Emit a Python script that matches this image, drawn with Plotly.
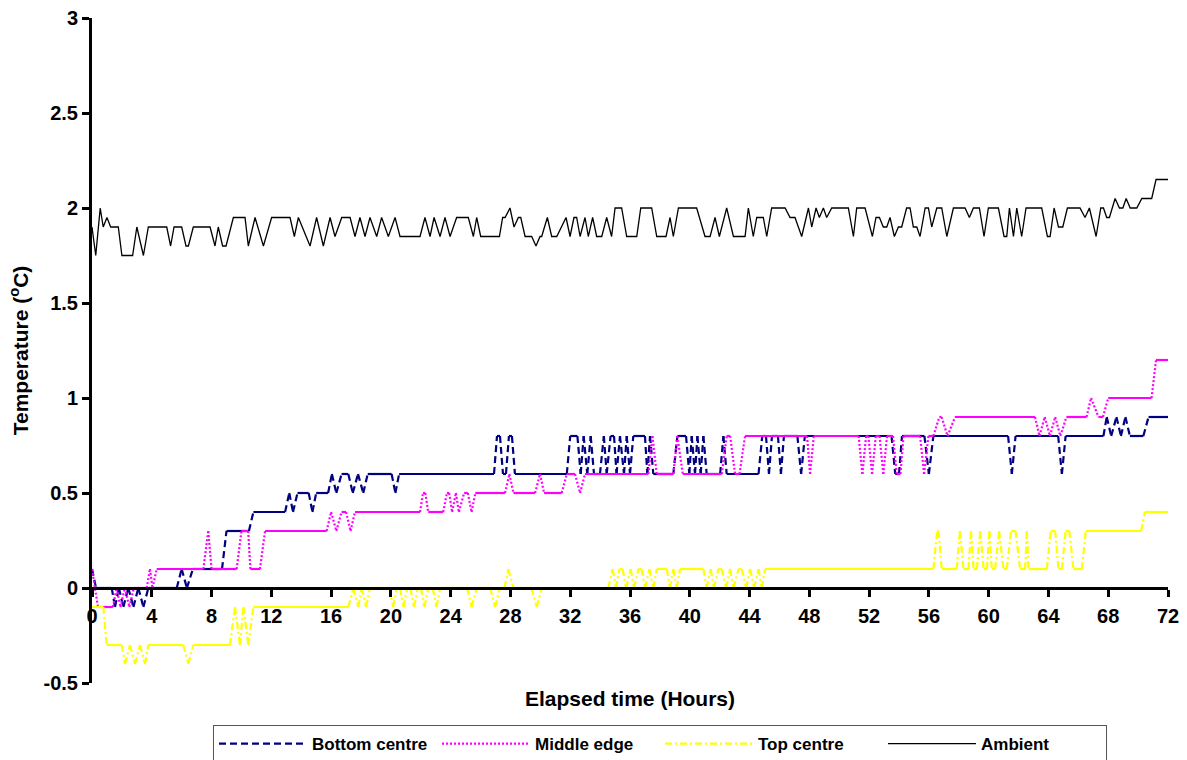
import plotly.graph_objects as go

# ---------------- data (hours, °C) ----------------
bottom_t = [0, 0.27, 1.32, 1.54, 1.8, 2.1, 2.43, 2.77, 3.1, 3.44, 3.77, 5.67, 6.0, 6.35, 6.75,
            8.7, 9.0, 10.5, 10.8, 12.92, 13.2, 13.45, 13.75, 14.5, 14.75, 15.0, 15.8, 16.05,
            16.35, 16.7, 17.15, 17.45, 17.8, 18.15, 18.45, 20.05, 20.3, 20.55, 26.9, 27.1, 27.3,
            27.5, 27.7, 27.9, 28.1, 28.3, 31.77, 32.0, 32.48, 32.7, 32.9, 33.14, 33.37, 33.59,
            33.99, 34.25, 34.44, 34.7, 34.93, 35.1, 35.33, 35.6, 35.78, 36.0, 36.22, 37.0, 37.16,
            37.34, 37.56, 38.9, 39.17, 39.75, 39.97, 40.13, 40.35, 40.51, 40.73, 40.91, 41.13,
            42.03, 42.25, 42.47, 44.6, 44.85, 45.1, 45.3, 45.5, 45.9, 46.1, 46.3, 47.2, 47.45,
            47.7, 53.5, 53.75, 54.0, 54.2, 55.7, 56.0, 56.3, 61.3, 61.55, 61.8, 64.65, 64.9,
            65.15, 67.68, 67.9, 68.2, 68.55, 68.85, 69.15, 69.45, 70.35, 70.7, 72]
bottom_v = [0.1, 0.0, 0.0, -0.1, 0.0, -0.1, 0.0, -0.1, 0.0, -0.1, 0.0, 0.0, 0.1, 0.0, 0.1,
            0.1, 0.3, 0.3, 0.4, 0.4, 0.5, 0.4, 0.5, 0.5, 0.4, 0.5, 0.5, 0.6,
            0.5, 0.6, 0.6, 0.5, 0.6, 0.5, 0.6, 0.6, 0.5, 0.6, 0.6, 0.8, 0.8,
            0.6, 0.6, 0.8, 0.8, 0.6, 0.6, 0.8, 0.8, 0.6, 0.8, 0.6, 0.8, 0.6,
            0.6, 0.8, 0.6, 0.8, 0.8, 0.6, 0.8, 0.6, 0.8, 0.6, 0.8, 0.8, 0.6,
            0.8, 0.6, 0.6, 0.8, 0.8, 0.6, 0.8, 0.6, 0.8, 0.6, 0.8, 0.6,
            0.6, 0.8, 0.6, 0.6, 0.8, 0.8, 0.6, 0.8, 0.8, 0.6, 0.8, 0.8, 0.6,
            0.8, 0.8, 0.6, 0.6, 0.8, 0.8, 0.6, 0.8, 0.8, 0.6, 0.8, 0.8, 0.6,
            0.8, 0.8, 0.9, 0.8, 0.9, 0.8, 0.9, 0.8, 0.8, 0.9, 0.9]

middle_t = [0, 0.4, 1.4, 1.65, 1.9, 2.2, 2.5, 2.8, 3.66, 3.88, 4.05, 4.33, 7.45, 7.78, 8.0,
            9.68, 10.0, 10.45, 10.6, 11.24, 11.58, 15.7, 16.0, 16.35, 16.7, 17.0, 17.3, 17.6,
            21.95, 22.15, 22.3, 22.5, 23.5, 23.75, 23.9, 24.1, 24.35, 24.55, 24.9, 25.15, 25.4,
            25.65, 27.64, 27.93, 28.2, 29.65, 29.98, 30.25, 31.43, 31.77, 32.32, 32.66, 32.99,
            37.23, 37.5, 37.79, 38.9, 39.17, 39.53, 42.14, 42.47, 42.7, 43.03, 43.33, 43.7,
            47.85, 48.05, 48.3, 51.3, 51.55, 51.8, 51.95, 52.2, 52.45, 52.7, 52.95, 53.2, 53.6,
            53.85, 54.1, 54.3, 55.41, 55.68, 55.97, 56.3, 56.7, 56.85, 57.25, 57.75, 63.1, 63.4,
            63.75, 64.1, 64.45, 64.8, 65.2, 66.55, 66.85, 67.35, 67.65, 68.0, 70.9, 71.2, 72]
middle_v = [0.1, -0.1, -0.1, 0.0, -0.1, 0.0, -0.1, 0.0, 0.0, 0.1, 0.0, 0.1, 0.1, 0.3, 0.1,
            0.1, 0.3, 0.3, 0.1, 0.1, 0.3, 0.3, 0.4, 0.3, 0.4, 0.4, 0.3, 0.4,
            0.4, 0.5, 0.5, 0.4, 0.4, 0.5, 0.5, 0.4, 0.5, 0.4, 0.5, 0.5, 0.4,
            0.5, 0.5, 0.6, 0.5, 0.5, 0.6, 0.5, 0.5, 0.6, 0.6, 0.5, 0.6,
            0.6, 0.8, 0.6, 0.6, 0.8, 0.6, 0.6, 0.8, 0.8, 0.6, 0.6, 0.8,
            0.8, 0.6, 0.8, 0.8, 0.6, 0.8, 0.8, 0.6, 0.8, 0.8, 0.6, 0.8, 0.8,
            0.6, 0.6, 0.8, 0.8, 0.6, 0.8, 0.8, 0.9, 0.9, 0.8, 0.9, 0.9, 0.8,
            0.9, 0.8, 0.9, 0.8, 0.9, 0.9, 1.0, 0.9, 0.9, 1.0, 1.0, 1.2, 1.2]

top_t = [0, 0.76, 0.98, 1.99, 2.21, 2.54, 2.88, 3.21, 3.55, 3.77, 6.11, 6.45, 6.78, 9.23, 9.57,
         9.9, 10.13, 10.46, 10.8, 17.15, 17.49, 17.82, 18.05, 18.34, 18.6, 19.9, 20.15, 20.4,
         20.6, 20.85, 21.1, 21.3, 21.55, 21.8, 22.0, 22.25, 22.5, 22.8, 23.05, 23.3, 25.1, 25.4,
         25.75, 26.65, 26.97, 27.3, 27.6, 27.86, 28.2, 29.4, 29.76, 30.1, 34.55, 34.84, 35.07,
         35.29, 35.51, 35.74, 36.05, 36.27, 36.56, 36.78, 37.01, 37.3, 37.56, 37.79, 38.46,
         38.68, 38.9, 39.13, 39.35, 40.91, 41.13, 41.4, 41.62, 41.91, 42.14, 42.43, 42.7, 42.92,
         43.26, 43.48, 43.77, 44.04, 44.31, 44.6, 44.82, 45.04, 56.3, 56.55, 56.65, 56.86,
         57.86, 58.08, 58.31, 58.65, 58.82, 58.99, 59.21, 59.44, 59.66, 59.88, 60.05, 60.21,
         60.43, 60.7, 60.99, 61.21, 61.5, 61.8, 62.1, 62.44, 62.55, 62.67, 63.89, 64.15, 64.45,
         64.67, 64.9, 65.15, 65.4, 65.67, 66.23, 66.5, 70.2, 70.45, 72]
top_v = [-0.1, -0.1, -0.3, -0.3, -0.4, -0.3, -0.4, -0.3, -0.4, -0.3, -0.3, -0.4, -0.3, -0.3, -0.1,
         -0.3, -0.1, -0.3, -0.1, -0.1, 0.0, -0.1, 0.0, -0.1, 0.0, 0.0, -0.1, 0.0,
         0.0, -0.1, 0.0, 0.0, -0.1, 0.0, 0.0, -0.1, 0.0, 0.0, -0.1, 0.0, 0.0, -0.1,
         0.0, 0.0, -0.1, 0.0, 0.0, 0.1, 0.0, 0.0, -0.1, 0.0, 0.0, 0.1, 0.0,
         0.1, 0.1, 0.0, 0.1, 0.0, 0.1, 0.1, 0.0, 0.1, 0.0, 0.1, 0.1,
         0.0, 0.1, 0.0, 0.1, 0.1, 0.0, 0.1, 0.0, 0.1, 0.1, 0.0, 0.1, 0.0,
         0.1, 0.1, 0.0, 0.1, 0.0, 0.1, 0.0, 0.1, 0.1, 0.3, 0.3, 0.1,
         0.1, 0.3, 0.1, 0.1, 0.3, 0.1, 0.1, 0.3, 0.1, 0.1, 0.3, 0.1,
         0.1, 0.3, 0.1, 0.1, 0.3, 0.3, 0.1, 0.1, 0.3, 0.1, 0.1, 0.3, 0.3,
         0.1, 0.1, 0.3, 0.3, 0.1, 0.1, 0.3, 0.3, 0.4, 0.4]

ambient_t = [0, 0.25, 0.55, 0.75, 1.0, 1.25, 1.76, 2.0, 2.72, 3.0, 3.44, 3.77, 5.0, 5.26, 5.49,
             6.0, 6.29, 6.45, 6.78, 7.9, 8.23, 8.45, 8.74, 8.97, 9.46, 10.24, 10.46, 10.91, 11.47,
             12.02, 13.25, 13.54, 13.81, 14.59, 15.03, 15.48, 15.93, 16.26, 16.71, 17.27, 17.6,
             17.93, 18.27, 18.6, 19.05, 19.38, 19.83, 20.28, 20.61, 21.95, 22.28, 22.62, 22.89,
             23.29, 23.62, 23.96, 24.4, 25.18, 25.52, 25.74, 26.01, 27.26, 27.48, 27.64, 27.97,
             28.24, 28.53, 28.69, 28.98, 29.42, 29.71, 29.98, 30.09, 30.47, 30.76, 31.1, 31.72,
             31.99, 32.25, 32.43, 32.66, 32.99, 33.21, 33.5, 33.77, 34.11, 34.44, 34.77, 35.0,
             35.44, 35.78, 36.45, 36.72, 37.45, 37.79, 38.41, 38.68, 38.9, 39.24, 40.46, 41.02,
             41.36, 41.69, 41.98, 42.47, 42.92, 43.7, 43.92, 44.25, 44.48, 44.92, 45.15, 45.48,
             46.38, 46.71, 47.04, 47.49, 47.94, 48.16, 48.45, 48.67, 48.94, 49.16, 49.5, 50.61,
             50.95, 51.17, 51.73, 52.22, 52.46, 52.69, 52.95, 53.18, 53.4, 53.69, 53.96, 54.18,
             54.51, 54.74, 54.96, 55.19, 55.41, 55.75, 55.97, 56.19, 56.53, 56.86, 57.2, 57.64,
             58.42, 58.71, 58.98, 59.38, 59.69, 59.98, 60.65, 61.03, 61.21, 61.39, 61.66, 61.88,
             62.21, 62.5, 63.55, 63.93, 64.11, 64.38, 64.67, 64.96, 65.27, 66.11, 66.45, 66.74,
             67.19, 67.5, 67.68, 67.9, 68.08, 68.46, 68.75, 68.98, 69.2, 69.47, 69.91, 70.25,
             70.91, 71.2, 72.0]
ambient_v = [1.9, 1.75, 2.0, 1.9, 1.95, 1.9, 1.9, 1.75, 1.75, 1.9, 1.75, 1.9, 1.9, 1.8, 1.9,
             1.9, 1.8, 1.8, 1.9, 1.9, 1.8, 1.9, 1.8, 1.8, 1.95, 1.95, 1.8, 1.95, 1.8,
             1.95, 1.95, 1.85, 1.95, 1.8, 1.95, 1.8, 1.95, 1.85, 1.95, 1.95, 1.85,
             1.95, 1.85, 1.95, 1.85, 1.95, 1.85, 1.95, 1.85, 1.85, 1.95, 1.85, 1.95,
             1.85, 1.95, 1.85, 1.95, 1.95, 1.85, 1.95, 1.85, 1.85, 1.95, 1.95, 2.0,
             1.9, 1.95, 1.95, 1.85, 1.85, 1.8, 1.85, 1.85, 1.95, 1.85, 1.85, 1.95,
             1.85, 1.95, 1.95, 1.85, 1.95, 1.85, 1.95, 1.85, 1.85, 1.95, 1.85, 2.0,
             2.0, 1.85, 1.85, 2.0, 2.0, 1.85, 1.85, 1.95, 1.85, 2.0, 2.0, 1.85,
             1.85, 1.95, 1.85, 2.0, 1.85, 1.85, 2.0, 1.85, 1.95, 1.95, 1.85, 2.0,
             2.0, 1.95, 1.95, 1.85, 2.0, 1.9, 2.0, 1.95, 2.0, 1.95, 2.0, 2.0,
             1.85, 2.0, 2.0, 1.85, 1.95, 1.95, 1.9, 1.9, 1.95, 1.85, 1.9, 1.9,
             2.0, 2.0, 1.9, 1.9, 1.85, 2.0, 2.0, 1.9, 2.0, 2.0, 1.85, 2.0,
             2.0, 1.95, 2.0, 2.0, 1.85, 2.0, 2.0, 1.85, 1.85, 2.0, 1.85, 2.0,
             1.85, 2.0, 2.0, 1.85, 1.85, 2.0, 1.9, 1.9, 2.0, 2.0, 1.95, 2.0,
             1.85, 2.0, 2.0, 1.95, 1.95, 2.05, 2.0, 2.0, 2.05, 2.0, 2.0, 2.05,
             2.05, 2.15, 2.15]

series_names = ["Bottom centre", "Middle edge", "Top centre", "Ambient"]
x_ticks = list(range(0, 73, 4))
y_ticks = [-0.5, 0, 0.5, 1, 1.5, 2, 2.5, 3]
y_tick_text = ["-0.5", "0", "0.5", "1", "1.5", "2", "2.5", "3"]

FONT = "Liberation Sans, Arial, sans-serif"


def split_segments(t, v):
    """Flat runs -> solid path; rising/falling steps -> dashed subpaths (dash restarts per segment)."""
    fx, fy, sx, sy = [], [], [], []
    for i in range(len(t) - 1):
        if v[i] == v[i + 1]:
            fx += [t[i], t[i + 1], None]
            fy += [v[i], v[i + 1], None]
        else:
            sx += [t[i], t[i + 1], None]
            sy += [v[i], v[i + 1], None]
    return fx, fy, sx, sy


fig = go.Figure()
styled = [
    (series_names[0], bottom_t, bottom_v, "#000080", "7px,4px", 2.2),
    (series_names[1], middle_t, middle_v, "#FF00FF", "2px,2px", 2.2),
    (series_names[2], top_t, top_v, "#FFFF00", "7px,3px,2px,3px", 2.2),
]
for name, t, v, color, dash, w in styled:
    fx, fy, sx, sy = split_segments(t, v)
    fig.add_trace(go.Scatter(x=sx, y=sy, mode="lines", name=name, legendgroup=name,
                             line=dict(color=color, width=w, dash=dash), connectgaps=False,
                             hoverinfo="skip"))
    fig.add_trace(go.Scatter(x=fx, y=fy, mode="lines", showlegend=False, legendgroup=name,
                             line=dict(color=color, width=w), connectgaps=False,
                             hoverinfo="skip"))

fig.add_trace(go.Scatter(x=ambient_t, y=ambient_v, mode="lines", name=series_names[3],
                         line=dict(color="black", width=1.3)))

tick_font = dict(family=FONT, size=20, color="black", weight="bold")

fig.update_layout(
    width=1187, height=760,
    margin=dict(l=92, r=19, t=18, b=77, autoexpand=False),
    paper_bgcolor="white", plot_bgcolor="white",
    showlegend=True,
    legend=dict(orientation="h", xref="container", yref="container",
                x=213 / 1187, y=1 - 725 / 760, xanchor="left", yanchor="top",
                bordercolor="#555555", borderwidth=1, bgcolor="white",
                font=dict(family=FONT, size=17, color="black", weight="bold"),
                itemwidth=88, entrywidth=120, entrywidthmode="pixels",
                traceorder="normal"),
    xaxis=dict(range=[0, 72], tickvals=x_ticks, ticktext=[str(x) for x in x_ticks],
               showline=True, linecolor="black", linewidth=3,
               ticks="outside", ticklen=7, tickwidth=3, tickcolor="black",
               showgrid=False, zeroline=False, anchor="free", position=0.5 / 3.5,
               ticklabelstandoff=2, tickfont=tick_font),
    yaxis=dict(range=[-0.5, 3], tickvals=y_ticks, ticktext=y_tick_text,
               showline=True, linecolor="black", linewidth=3,
               ticks="outside", ticklen=7, tickwidth=3, tickcolor="black",
               showgrid=False, zeroline=False, tickfont=tick_font,
               title=dict(text="Temperature (<sup>o</sup>C)", standoff=10,
                          font=dict(family=FONT, size=21, color="black", weight="bold"))),
    annotations=[dict(text="Elapsed time (Hours)", xref="paper", yref="paper", x=0.5,
                      y=-(698 - 683) / 665, xanchor="center", yanchor="middle", showarrow=False,
                      font=dict(family=FONT, size=21, color="black", weight="bold"))],
)

fig.write_html("out.html")
